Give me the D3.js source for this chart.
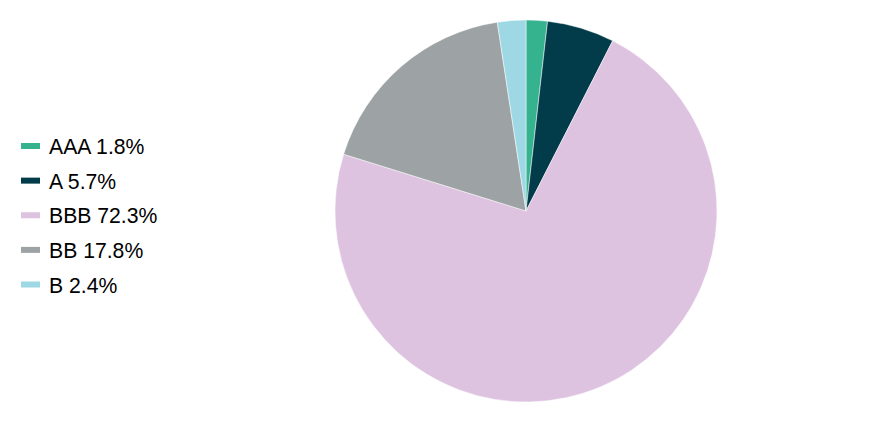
<!DOCTYPE html>
<html><head><meta charset="utf-8">
<script src="https://cdn.jsdelivr.net/npm/d3@7"></script>
<style>body{margin:0;background:#fff}svg{display:block}</style>
</head><body>
<svg id="c" width="888" height="432"></svg>
<script>
const categories = ["AAA", "A", "BBB", "BB", "B"];
const values = [1.8, 5.7, 72.3, 17.8, 2.4];
const colors = ["#35b38f", "#023b49", "#ddc3e0", "#9da3a5", "#9ed8e5"];

const svg = d3.select("#c");
const data = categories.map((c, i) => ({cat: c, value: values[i], color: colors[i]}));
const pie = d3.pie().sort(null).value(d => d.value);
const arc = d3.arc().innerRadius(0).outerRadius(191);
const g = svg.append("g").attr("transform", "translate(526,211)");
g.selectAll("path").data(pie(data)).join("path")
  .attr("d", arc).attr("fill", d => d.data.color)
  .attr("stroke", "#fff").attr("stroke-width", 0.5);

const y = d3.scalePoint().domain(categories).range([146, 284.5]);
const lg = svg.append("g");
const items = lg.selectAll("g").data(data).join("g")
  .attr("transform", d => `translate(0,${y(d.cat)})`);
items.append("rect").attr("x", 21).attr("y", -3).attr("width", 19).attr("height", 6)
  .attr("fill", d => d.color);
items.append("text").attr("x", 49).attr("y", 8)
  .attr("font-family", "Liberation Sans, Arial, sans-serif").attr("font-size", 21.2)
  .attr("fill", "#000")
  .text(d => `${d.cat} ${d.value}%`);
</script>
</body></html>
